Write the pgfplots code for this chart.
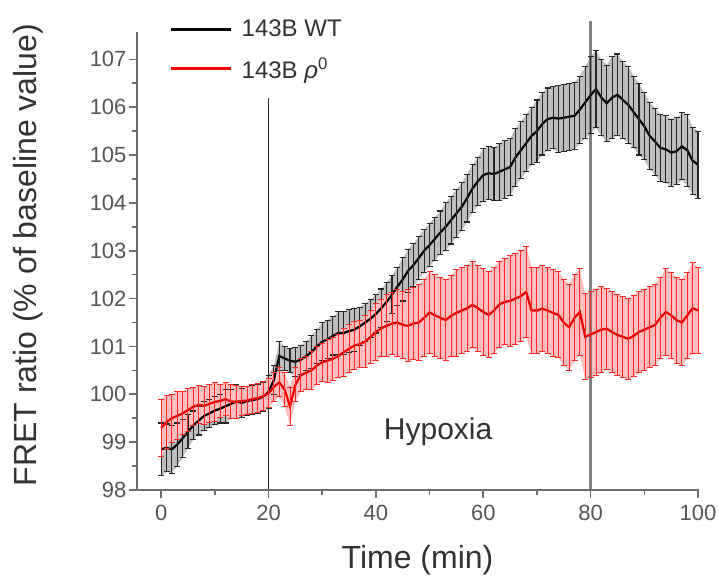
\documentclass[border=0pt]{standalone}
\usepackage{pgfplots}
\pgfplotsset{compat=1.18}
\usepackage{pgfplotstable}
\usepgfplotslibrary{fillbetween}
\usepackage{fontspec}
\setmainfont{Liberation Sans}
\definecolor{axgray}{RGB}{110,110,110}
\definecolor{txtgray}{RGB}{85,85,85}
\definecolor{myred}{RGB}{240,0,0}
\definecolor{wtband}{RGB}{190,190,190}
\definecolor{rhband}{RGB}{250,190,190}

\pgfplotstableread{
t wt wte rho rhoe
0 98.85 0.55 99.30 0.60
1 98.88 0.50 99.42 0.55
2 98.85 0.50 99.50 0.50
3 98.95 0.45 99.55 0.50
4 99.08 0.40 99.60 0.45
5 99.22 0.35 99.67 0.45
6 99.35 0.30 99.74 0.40
7 99.45 0.30 99.78 0.40
8 99.55 0.30 99.76 0.40
9 99.60 0.30 99.80 0.40
10 99.66 0.30 99.84 0.40
11 99.70 0.30 99.86 0.35
12 99.75 0.35 99.90 0.35
13 99.80 0.30 99.85 0.35
14 99.85 0.35 99.84 0.35
15 99.82 0.30 99.86 0.30
16 99.86 0.30 99.87 0.30
17 99.88 0.30 99.90 0.30
18 99.90 0.30 99.92 0.30
19 99.95 0.30 99.96 0.30
20 100.05 0.35 100.02 0.30
21 100.30 0.30 100.15 0.30
22 100.80 0.30 100.25 0.30
23 100.75 0.25 100.10 0.35
24 100.70 0.25 99.75 0.40
25 100.68 0.30 100.20 0.35
26 100.72 0.30 100.40 0.35
27 100.80 0.30 100.45 0.35
28 100.88 0.35 100.50 0.40
29 101.00 0.35 100.60 0.40
30 101.10 0.40 100.67 0.40
31 101.15 0.40 100.70 0.45
32 101.22 0.40 100.74 0.45
33 101.28 0.45 100.80 0.45
34 101.28 0.45 100.88 0.50
35 101.32 0.45 100.95 0.50
36 101.35 0.45 101.02 0.50
37 101.42 0.40 101.05 0.50
38 101.50 0.40 101.10 0.55
39 101.58 0.40 101.20 0.55
40 101.68 0.40 101.30 0.60
41 101.80 0.40 101.38 0.60
42 101.93 0.40 101.43 0.65
43 102.08 0.40 101.48 0.65
44 102.25 0.40 101.50 0.70
45 102.40 0.45 101.45 0.70
46 102.58 0.45 101.43 0.75
47 102.70 0.45 101.48 0.75
48 102.85 0.45 101.50 0.80
49 103.00 0.45 101.60 0.80
50 103.12 0.45 101.71 0.85
51 103.25 0.45 101.65 0.85
52 103.38 0.45 101.60 0.85
53 103.50 0.50 101.55 0.85
54 103.64 0.50 101.64 0.85
55 103.78 0.50 101.70 0.90
56 103.92 0.50 101.75 0.90
57 104.10 0.50 101.80 0.90
58 104.30 0.50 101.87 0.90
59 104.45 0.50 101.80 0.90
60 104.58 0.55 101.72 0.90
61 104.62 0.55 101.66 0.90
62 104.60 0.55 101.75 0.90
63 104.65 0.60 101.88 0.90
64 104.70 0.60 101.93 0.90
65 104.75 0.60 101.95 0.95
66 104.95 0.60 102.00 0.95
67 105.10 0.60 102.05 0.95
68 105.25 0.60 102.14 0.95
69 105.40 0.60 101.75 0.90
70 105.50 0.65 101.75 0.90
71 105.65 0.65 101.79 0.90
72 105.75 0.65 101.75 0.90
73 105.78 0.65 101.70 0.90
74 105.76 0.70 101.66 0.90
75 105.78 0.70 101.50 0.90
76 105.80 0.70 101.40 0.90
77 105.82 0.70 101.60 0.90
78 105.95 0.70 101.72 0.90
79 106.10 0.75 101.20 0.90
80 106.25 0.80 101.25 0.90
81 106.38 0.80 101.30 0.90
82 106.20 0.80 101.35 0.90
83 106.08 0.80 101.37 0.85
84 106.20 0.85 101.30 0.85
85 106.26 0.85 101.24 0.85
86 106.15 0.80 101.20 0.85
87 106.05 0.80 101.16 0.85
88 105.90 0.75 101.22 0.85
89 105.75 0.75 101.30 0.85
90 105.60 0.70 101.35 0.85
91 105.40 0.70 101.40 0.85
92 105.28 0.70 101.45 0.85
93 105.15 0.70 101.60 0.85
94 105.12 0.70 101.72 0.90
95 105.05 0.70 101.65 0.90
96 105.08 0.70 101.55 0.90
97 105.18 0.70 101.50 0.90
98 105.10 0.75 101.65 0.90
99 104.88 0.70 101.80 0.95
100 104.80 0.70 101.75 0.90
}\data

\begin{document}
\begin{tikzpicture}
\begin{axis}[
  scale only axis,
  width=561pt, height=457pt,
  at={(0pt,0pt)}, anchor=south west,
  xmin=-4.5, xmax=100, ymin=98, ymax=107.55,
  axis x line*=bottom, axis y line*=left,
  axis line style={-, draw=axgray, line width=2.6pt},
  clip=false,
  xtick={0,20,40,60,80,100},
  ytick={98,99,100,101,102,103,104,105,106,107},
  minor x tick num=1, minor y tick num=1,
  tick align=outside,
  major tick length=8pt, minor tick length=5pt,
  tick style={draw=axgray, line width=1.6pt},
  /pgf/number format/assume math mode=true,
  ticklabel style={font=\fontsize{22}{26}\selectfont, text=txtgray},
  xticklabel style={yshift=-4pt},
  yticklabel style={xshift=1pt},
  xlabel={Time (min)},
  ylabel={FRET ratio (\% of baseline value)},
  label style={font=\fontsize{32}{38}\selectfont, text=black!80},
  xlabel style={at={(axis description cs:0.5,0)}, anchor=base, yshift=-79pt},
  ylabel style={at={(axis description cs:-0.194,0.514)}, anchor=center},
  legend style={draw=none, fill=none, at={(axis description cs:0.0588,1.035)}, anchor=north west,
    font=\fontsize{24}{28}\selectfont, text=black!80, row sep=13pt, inner sep=0pt,
    nodes={inner sep=3pt}},
  legend image code/.code={\draw[#1] (0pt,0pt) -- (60pt,0pt);},
  legend cell align=left,
  /tikz/every odd column/.append style={column sep=6pt},
]
% vertical markers
\addplot[forget plot, draw=black!85, line width=1.8pt] coordinates {(20,98) (20,106.2)};
\addplot[forget plot, draw=black!50, line width=2.4pt] coordinates {(80,98) (80,107.8)};

% bands (mean +/- error)
\addplot[name path=wtU, draw=none, forget plot] table[x=t, y expr=\thisrow{wt}+\thisrow{wte}] {\data};
\addplot[name path=wtL, draw=none, forget plot] table[x=t, y expr=\thisrow{wt}-\thisrow{wte}] {\data};
\addplot[wtband, forget plot] fill between[of=wtU and wtL];
\addplot[name path=rhU, draw=none, forget plot] table[x=t, y expr=\thisrow{rho}+\thisrow{rhoe}] {\data};
\addplot[name path=rhL, draw=none, forget plot] table[x=t, y expr=\thisrow{rho}-\thisrow{rhoe}] {\data};
\addplot[rhband, forget plot] fill between[of=rhU and rhL];

% WT bars and line
\addplot[forget plot, black, line width=2.2pt, mark=none,
  error bars/.cd, y dir=both, y explicit,
  error bar style={line width=1.1pt, black!85},
  error mark options={rotate=90, mark size=3pt, line width=1.1pt, black!85}]
  table[x=t, y=wt, y error=wte] {\data};

% rho0 bars and line
\addplot[forget plot, myred, line width=2.2pt, mark=none,
  error bars/.cd, y dir=both, y explicit,
  error bar style={line width=1.0pt, red!85},
  error mark options={rotate=90, mark size=3pt, line width=1.0pt, red!85}]
  table[x=t, y=rho, y error=rhoe] {\data};

% axis lines (Origin style, left and bottom only), on top
\addplot[forget plot, draw=axgray, line width=2.6pt, line cap=rect] coordinates {(-4.5,107.55) (-4.5,98) (100,98)};

\addlegendimage{black, line width=2.5pt}
\addlegendentry{143B WT}
\addlegendimage{myred, line width=2.5pt}
\addlegendentry{143B \textit{ρ}\textsuperscript{0}}

\node[anchor=base, font=\fontsize{30}{36}\selectfont, text=black!80] at (axis cs:51.6,99.05) {Hypoxia};
\end{axis}
\pgfresetboundingbox
\path[use as bounding box] (-137pt,-87pt) rectangle (581pt,490pt);
\end{tikzpicture}
\end{document}
